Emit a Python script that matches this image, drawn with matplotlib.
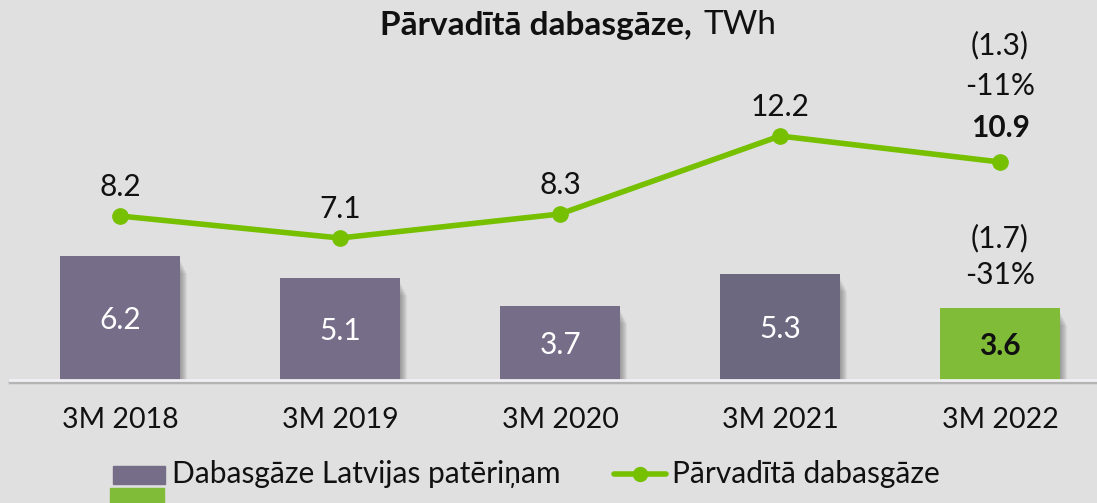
import matplotlib
matplotlib.use("Agg")
import matplotlib.pyplot as plt
from matplotlib.patches import Rectangle

# ---------------------------
# Data
# ---------------------------
categories = ["3M 2018", "3M 2019", "3M 2020", "3M 2021", "3M 2022"]
consumption = [6.2, 5.1, 3.7, 5.3, 3.6]      # Dabasgāze Latvijas patēriņam
transported = [8.2, 7.1, 8.3, 12.2, 10.9]    # Pārvadītā dabasgāze
transport_change = ["(1.3)", "-11%"]
consumption_change = ["(1.7)", "-31%"]

# ---------------------------
# Style
# ---------------------------
BG = "#e0e0e0"
BAR_COLORS = ["#766d89", "#766d89", "#766d89", "#6c6880", "#80bc37"]
LINE_COLOR = "#76c000"
TXT = "#111111"
FS = 21.5
plt.rcParams["font.family"] = ["Lato", "DejaVu Sans"]

fig = plt.figure(figsize=(10.97, 5.03), dpi=100, facecolor=BG)
ax = fig.add_axes([0, (503 - 380) / 503, 1, 340 / 503])
ax.set_facecolor(BG)
ax.set_xlim(-120 / 220, (1097 - 120) / 220)
ax.set_ylim(0, 17)
ax.axis("off")

x = list(range(len(categories)))
width = 0.545
px_x = 1 / 220   # one pixel in data units
px_y = 1 / 20

# baseline with shadow
ax.axhline(-0.12, xmin=10 / 1097, xmax=1, color="#b4b4b4", lw=2.5, zorder=1, clip_on=False)
ax.axhline(0, xmin=10 / 1097, xmax=1, color="#f0f0f4", lw=2, zorder=4, clip_on=False)

# soft bar shadows
for i, v in enumerate(consumption):
    for k in range(1, 8):
        ax.add_patch(Rectangle((i - width / 2 + k * px_x, -3 * px_y), width, v - 2 * k * px_y,
                               color="#444444", alpha=0.07, lw=0, zorder=2))

ax.bar(x, consumption, width=width, color=BAR_COLORS, zorder=3)

for i, v in enumerate(consumption):
    last = i == len(consumption) - 1
    ax.text(i, v / 2 - 0.1, f"{v:.1f}", ha="center", va="center", fontsize=FS,
            color=TXT if last else "white",
            fontweight="bold" if last else "normal", zorder=5)

ax.plot(x, transported, color=LINE_COLOR, lw=4, marker="o", markersize=11, zorder=6)

for i, v in enumerate(transported):
    last = i == len(transported) - 1
    ax.text(i, v + 1.45 + (0.25 if last else 0), f"{v:.1f}", ha="center", va="center",
            fontsize=FS, color=TXT, fontweight="bold" if last else "normal")

# change annotations
ax.text(4, 16.75, transport_change[0], ha="center", va="center", fontsize=FS, color=TXT)
ax.text(4, 14.7, transport_change[1], ha="center", va="center", fontsize=FS, color=TXT)
ax.text(4, 7.1, consumption_change[0], ha="center", va="center", fontsize=FS, color=TXT)
ax.text(4, 5.25, consumption_change[1], ha="center", va="center", fontsize=FS, color=TXT)

# category labels
for i, c in enumerate(categories):
    fig.text((120 + 220 * i) / 1097, 1 - 420 / 503, c, ha="center", va="center",
             fontsize=20.5, color=TXT)

# title
fig.text(692 / 1097, 1 - 25 / 503, "Pārvadītā dabasgāze,", ha="right", va="center",
         fontsize=24, fontweight="bold", color=TXT)
fig.text(703 / 1097, 1 - 25 / 503, "TWh", ha="left", va="center",
         fontsize=24, color=TXT)

# legend (drawn by hand to match layout)
ly = 1 - 474 / 503
fig.patches.append(Rectangle((113 / 1097, 1 - 484 / 503), 52 / 1097, 18 / 503,
                             transform=fig.transFigure, color=BAR_COLORS[0]))
fig.patches.append(Rectangle((110 / 1097, 0), 54 / 1097, 15 / 503,
                             transform=fig.transFigure, color=BAR_COLORS[-1]))
fig.text(172 / 1097, ly, "Dabasgāze Latvijas patēriņam", ha="left", va="center",
         fontsize=21.5, color=TXT)
fig.lines.append(plt.Line2D([614 / 1097, 666 / 1097], [ly, ly],
                            transform=fig.transFigure, color=LINE_COLOR, lw=4,
                            solid_capstyle="round"))
fig.lines.append(plt.Line2D([640 / 1097], [ly], transform=fig.transFigure,
                            color=LINE_COLOR, marker="o", markersize=10, lw=0))
fig.text(672 / 1097, ly, "Pārvadītā dabasgāze", ha="left", va="center",
         fontsize=21.5, color=TXT)

fig.savefig("out.png", dpi=100, facecolor=BG)
